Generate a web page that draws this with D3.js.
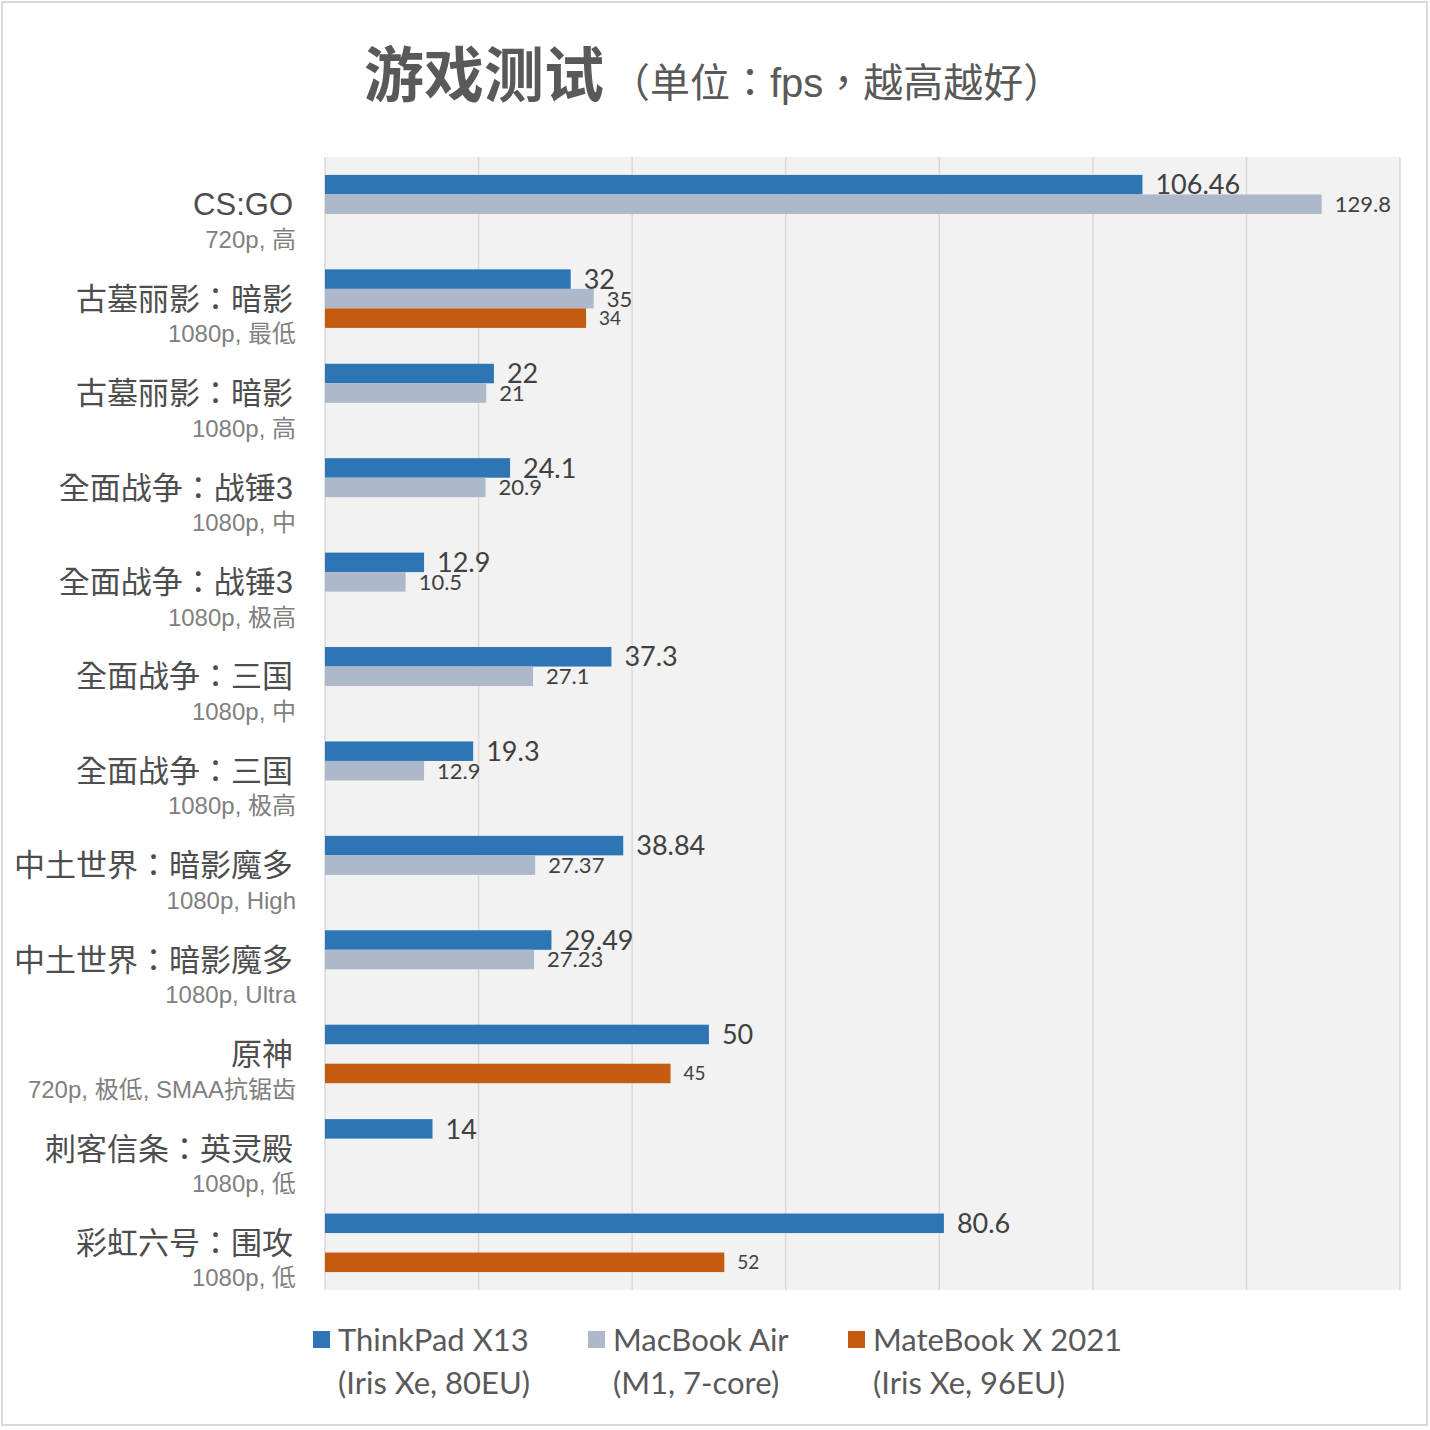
<!DOCTYPE html>
<html>
<head>
<meta charset="utf-8">
<script src="https://cdn.jsdelivr.net/npm/d3@7"></script>
<style>
  body { margin: 0; background: #fff; }
  svg { display: block; }
</style>
</head>
<body>
<svg id="chart" width="1430" height="1430"></svg>
<script>
// games and settings, top to bottom
var games = ["CS:GO", "古墓丽影：暗影", "古墓丽影：暗影", "全面战争：战锤3", "全面战争：战锤3",
  "全面战争：三国", "全面战争：三国", "中土世界：暗影魔多", "中土世界：暗影魔多", "原神",
  "刺客信条：英灵殿", "彩虹六号：围攻"];
var settings = ["720p, 高", "1080p, 最低", "1080p, 高", "1080p, 中", "1080p, 极高",
  "1080p, 中", "1080p, 极高", "1080p, High", "1080p, Ultra", "720p, 极低, SMAA抗锯齿",
  "1080p, 低", "1080p, 低"];

// fps per machine (null = not tested)
var thinkpad = [106.46, 32, 22, 24.1, 12.9, 37.3, 19.3, 38.84, 29.49, 50, 14, 80.6];
var macbook = [129.8, 35, 21, 20.9, 10.5, 27.1, 12.9, 27.37, 27.23, null, null, null];
var matebook = [null, 34, null, null, null, null, null, null, null, 45, null, 52];

var seriesNames = ["ThinkPad X13", "MacBook Air", "MateBook X 2021"];
var seriesSub = ["(Iris Xe, 80EU)", "(M1, 7-core)", "(Iris Xe, 96EU)"];
var xTicks = [0, 20, 40, 60, 80, 100, 120, 140];

var colors = ["#2e75b6", "#adb9ca", "#c55a11"];
var labelSizes = [27, 22, 19];
var seriesData = [thinkpad, macbook, matebook];

var cjk = "'Liberation Sans', 'Noto Sans CJK TC', sans-serif";

var svg = d3.select("#chart");
var margin = {top: 157, right: 30, bottom: 140, left: 325};
var plotW = 1400 - margin.left;
var plotH = 1290 - margin.top;

// outer frame
svg.append("rect")
  .attr("x", 2).attr("y", 2).attr("width", 1425).attr("height", 1423)
  .attr("fill", "#fff").attr("stroke", "#d9d9d9").attr("stroke-width", 2);

// title
var title = svg.append("text")
  .attr("x", 364).attr("y", 97)
  .attr("fill", "#595959")
  .style("font-family", cjk);
title.append("tspan").attr("font-size", 60).attr("font-weight", 700)
  .style("font-family", "'Noto Sans CJK SC', sans-serif").text("游戏测试");
title.append("tspan").attr("font-size", 40).attr("dx", 6).text("（单位：fps，越高越好）");

var g = svg.append("g").attr("transform", "translate(" + margin.left + "," + margin.top + ")");

var x = d3.scaleLinear().domain([0, 140]).range([0, plotW]);
var y = d3.scaleBand().domain(d3.range(games.length)).range([0, plotH])
  .paddingInner(0.38).paddingOuter(0.19);
var ySub = d3.scaleBand().domain([0, 1, 2]).range([0, y.bandwidth()]);

g.append("rect")
  .attr("width", plotW).attr("height", plotH)
  .attr("fill", "#f2f2f2");

g.selectAll(".grid")
  .data(xTicks)
  .enter().append("line")
  .attr("class", "grid")
  .attr("x1", function(d){ return x(d); })
  .attr("x2", function(d){ return x(d); })
  .attr("y1", 0).attr("y2", plotH)
  .attr("stroke", "#d9d9d9").attr("stroke-width", 1.5);

// bars + value labels
seriesData.forEach(function(vals, s){
  var pts = [];
  vals.forEach(function(v, i){ if (v != null) pts.push({i: i, v: v}); });

  g.selectAll(".bar" + s)
    .data(pts)
    .enter().append("rect")
    .attr("x", 0)
    .attr("y", function(d){ return y(d.i) + ySub(s); })
    .attr("width", function(d){ return x(d.v); })
    .attr("height", ySub.bandwidth())
    .attr("fill", colors[s]);

  g.selectAll(".val" + s)
    .data(pts)
    .enter().append("text")
    .attr("x", function(d){ return x(d.v) + 13; })
    .attr("y", function(d){ return y(d.i) + ySub(s) + ySub.bandwidth() / 2; })
    .attr("dy", "0.36em")
    .attr("font-size", labelSizes[s])
    .attr("fill", "#404040")
    .style("font-family", "Lato, sans-serif")
    .text(function(d){ return d.v; });
});

// category labels
var cats = g.selectAll(".cat")
  .data(games)
  .enter().append("g")
  .attr("transform", function(d, i){ return "translate(-32," + (y(i) + y.bandwidth() / 2) + ")"; })
  .style("font-family", cjk);

cats.append("text")
  .attr("text-anchor", "end")
  .attr("dy", "0.36em")
  .attr("font-size", 31)
  .attr("fill", "#4d4d4d")
  .text(function(d){ return d; });

cats.append("text")
  .attr("text-anchor", "end")
  .attr("x", 3)
  .attr("y", 35)
  .attr("dy", "0.36em")
  .attr("font-size", 24)
  .attr("fill", "#808080")
  .text(function(d, i){ return settings[i]; });

// legend
var legendX = [313, 588, 848];
var legend = svg.selectAll(".legend")
  .data(seriesNames)
  .enter().append("g")
  .attr("transform", function(d, i){ return "translate(" + legendX[i] + ",1340)"; })
  .style("font-family", "Lato, sans-serif");

legend.append("rect")
  .attr("x", 0).attr("y", -9).attr("width", 17).attr("height", 17)
  .attr("fill", function(d, i){ return colors[i]; });

legend.append("text")
  .attr("x", 25).attr("dy", "0.36em")
  .attr("font-size", 31).attr("fill", "#595959")
  .text(function(d){ return d; });

legend.append("text")
  .attr("x", 25).attr("y", 43).attr("dy", "0.36em")
  .attr("font-size", 31).attr("fill", "#595959")
  .text(function(d, i){ return seriesSub[i]; });
</script>
</body>
</html>
